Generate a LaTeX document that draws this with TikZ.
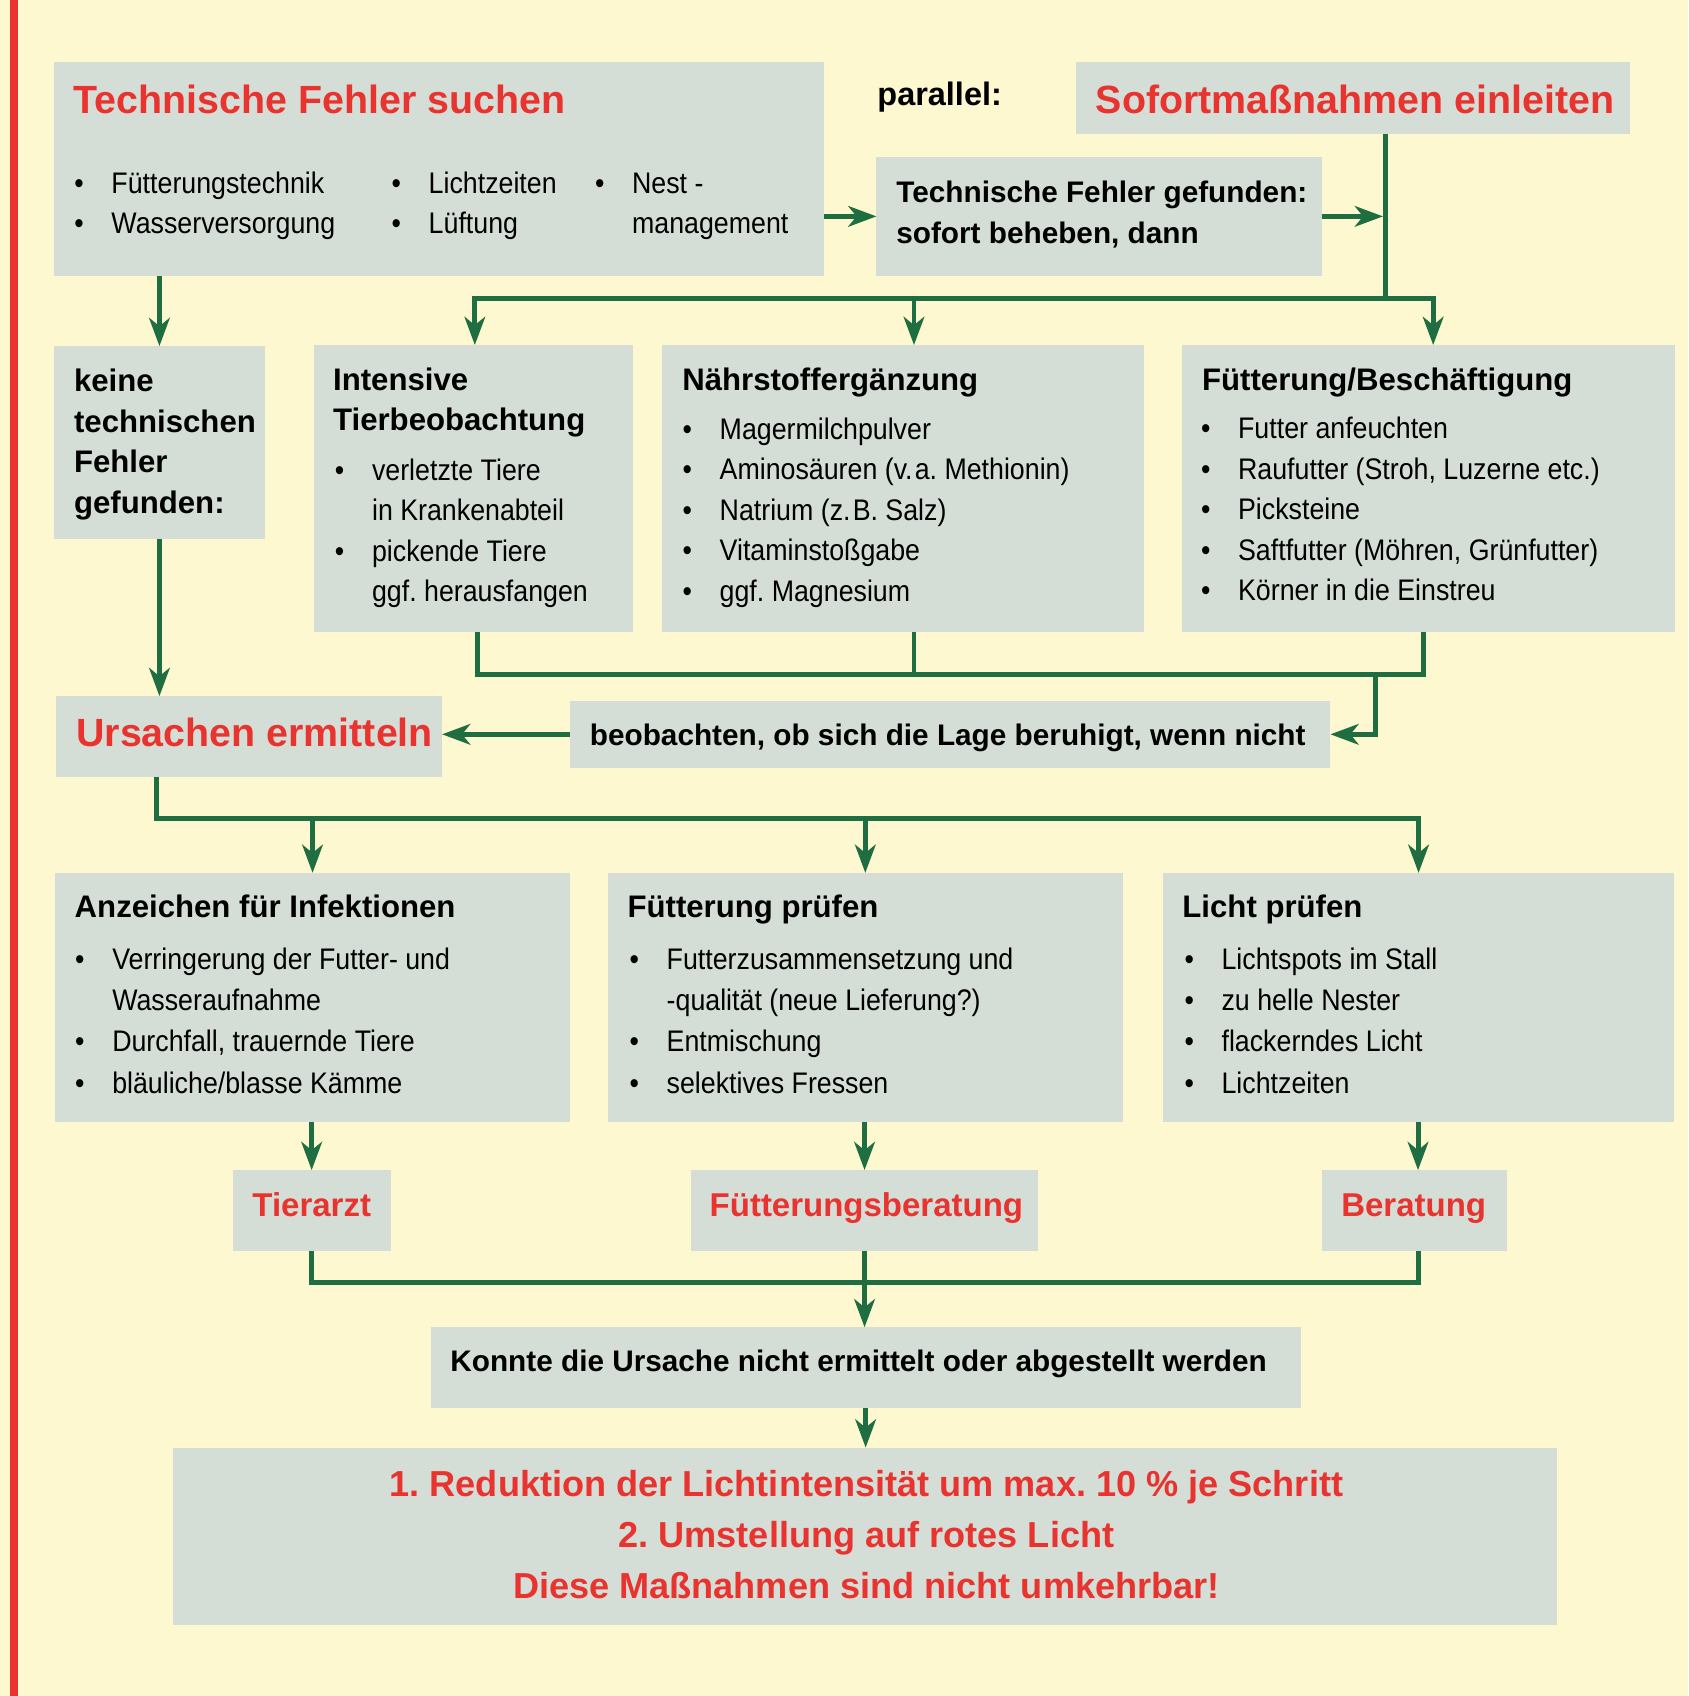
\documentclass[tikz,border=0pt]{standalone}
\usepackage{fontspec}
\setmainfont{Liberation Sans}
\newfontfamily\bodyfont{Liberation Sans}[FakeStretch=0.9]
\usetikzlibrary{arrows.meta,fit}
\definecolor{bgc}{HTML}{FDF8D0}
\definecolor{boxc}{HTML}{D4DED7}
\definecolor{grn}{HTML}{1F6E42}
\definecolor{redc}{HTML}{E8332F}
\newcommand\bitem[1]{\hbox{\makebox[17.15pt][l]{\textbullet}#1}}
\newcommand\bcont[1]{\hbox{\hspace*{17.15pt}#1}}
\begin{document}
\frenchspacing
\begin{tikzpicture}[x=0.5pt,y=-0.5pt,
 box/.style={fill=boxc, draw=none, inner sep=0pt, outer sep=0pt},
 ttl/.style={font=\bfseries\fontsize{18.2}{21.6}\selectfont, text=redc, inner sep=0pt, anchor=base west},
 hdr/.style={font=\bfseries\fontsize{14.4}{18.75}\selectfont, text=black, inner sep=0pt, anchor=base west},
 phr/.style={font=\bfseries\fontsize{13.75}{18.75}\selectfont, text=black, inner sep=0pt, anchor=base west},
 bod/.style={font=\bodyfont\fontsize{13.75}{18.75}\selectfont, text=black, inner sep=0pt, anchor=base west},
 bodw/.style={font=\bodyfont\fontsize{13.75}{19}\selectfont, text=black, inner sep=0pt, anchor=base west},
 rmid/.style={font=\bfseries\fontsize{15.25}{18}\selectfont, text=redc, inner sep=0pt, anchor=base},
 fin/.style={font=\bfseries\fontsize{16.7}{20}\selectfont, text=redc, inner sep=0pt, anchor=base},
 conn/.style={draw=grn, line width=2.3pt},
 arr/.style={conn, -{Stealth[length=13pt,width=9.5pt,inset=3.8pt]}},
]
\useasboundingbox (0,0) rectangle (1561,1568);
\fill[bgc] (0,0) rectangle (1561,1568);
\fill[redc] (9,0) rectangle (16.5,1568);

% boxes
\node[box, fit={(50.1,57.3) (761.8,255.2)}] (b1) {};
\node[box, fit={(994.8,57.3) (1507,123.6)}] (b2) {};
\node[box, fit={(810.3,145.2) (1221.8,254.9)}] (b3) {};
\node[box, fit={(50,320) (244.8,498.7)}] (b4) {};
\node[box, fit={(290.2,319) (585,584.1)}] (b5) {};
\node[box, fit={(612,319) (1057.3,584.1)}] (b6) {};
\node[box, fit={(1092.9,319) (1549,584.1)}] (b7) {};
\node[box, fit={(51.6,643.6) (408.7,718.2)}] (b8) {};
\node[box, fit={(527.1,648.2) (1230,709.6)}] (b9) {};
\node[box, fit={(50.9,807) (527,1037)}] (b10) {};
\node[box, fit={(562,807) (1038,1037)}] (b11) {};
\node[box, fit={(1075,807) (1548,1037)}] (b12) {};
\node[box, fit={(215,1081.8) (361.3,1156.6)}] (b13) {};
\node[box, fit={(639,1081.8) (959.6,1156.6)}] (b14) {};
\node[box, fit={(1222.3,1081.8) (1393.6,1156.6)}] (b15) {};
\node[box, fit={(398.2,1227.1) (1202.4,1301.8)}] (b16) {};
\node[box, fit={(160.3,1338.3) (1439.3,1502.3)}] (b17) {};

% junction coordinates
\coordinate (jA) at (1281,276);
\coordinate (busL) at (439,276);
\coordinate (busM) at (845,276);
\coordinate (busR) at (1325,276);
\coordinate (c1) at (441.7,623.6);
\coordinate (c2) at (1315.7,623.6);
\coordinate (c3) at (845,623.6);
\coordinate (c4) at (1271.3,623.6);
\coordinate (d0) at (144.5,757);
\coordinate (e1) at (1311,1186);

% connectors
\draw[arr] (b1.east |- b3.west) -- (b3.west);
\draw[arr, shorten >=1.2pt] (b3.east) -- (b3.east -| jA);
\draw[arr] (b2.south -| jA) -- (jA) -- (busL) -- (busL |- b5.north);
\draw[arr] (jA) -- (busR) -- (busR |- b7.north);
\draw[arr] (busM) -- (busM |- b6.north);
\draw[arr] (b4.north |- b1.south) -- (b4.north);
\draw[arr] (b4.south) -- (b4.south |- b8.north);
\draw[conn] (c1 |- b5.south) -- (c1) -- (c2) -- (c2 |- b7.south);
\draw[conn] (c3 |- b6.south) -- (c3);
\draw[arr] (c4) -- (c4 |- b9.east) -- (b9.east);
\draw[arr] (b9.west) -- (b8.east |- b9.west);
\draw[arr] (d0 |- b8.south) -- (d0) -| (b12.north);
\draw[arr] (d0 -| b10.north) -- (b10.north);
\draw[arr] (d0 -| b11.north) -- (b11.north);
\draw[arr] (b13.north |- b10.south) -- (b13.north);
\draw[arr] (b14.north |- b11.south) -- (b14.north);
\draw[arr] (e1 |- b12.south) -- (e1 |- b15.north);
\draw[conn] (b13.south) -- (b13.south |- e1) -- (e1) -- (e1 |- b15.south);
\draw[arr] (b14.south) -- (b14.south |- b16.north);
\draw[arr] (b16.south) -- (b16.south |- b17.north);

% texts
\node[ttl] (t1) at (67.7,104.5) {Technische Fehler suchen};
\node[bod] (t1a) at (68.4,178.7) {\vtop{\bitem{Fütterungstechnik}\bitem{Wasserversorgung}}};
\node[bod] (t1b) at (361.7,178.7) {\vtop{\bitem{Lichtzeiten}\bitem{Lüftung}}};
\node[bod] (t1c) at (549.7,178.7) {\vtop{\bitem{Nest -}\bcont{management}}};
\node[phr, font=\bfseries\fontsize{15}{18}\selectfont] (par) at (810.8,97.7) {parallel:};
\node[ttl] (t2) at (1012.8,104.8) {Sofortmaßnahmen einleiten};
\node[phr] (t3) at (828.3,187.5) {\vtop{\hbox{Technische Fehler gefunden:}\hbox{sofort beheben, dann}}};
\node[hdr] (t4) at (68.1,362.2) {\vtop{\hbox{keine}\hbox{technischen}\hbox{Fehler}\hbox{gefunden:}}};
\node[hdr, font=\bfseries\fontsize{14.4}{18.5}\selectfont] (t5h) at (307.6,360.6) {\vtop{\hbox{Intensive}\hbox{Tierbeobachtung}}};
\node[bod] (t5) at (309.3,443.9) {\vtop{\bitem{verletzte Tiere}\bcont{in Krankenabteil}\bitem{pickende Tiere}\bcont{ggf. herausfangen}}};
\node[hdr] (t6h) at (630.4,360.6) {Nährstoffergänzung};
\node[bod] (t6) at (630.7,406) {\vtop{\bitem{Magermilchpulver}\bitem{Aminosäuren (v.\kern1pt a. Methionin)}\bitem{Natrium (z.\kern1pt B. Salz)}\bitem{Vitaminstoßgabe}\bitem{ggf. Magnesium}}};
\node[hdr] (t7h) at (1111,360.6) {Fütterung/Beschäftigung};
\node[bod] (t7) at (1110,405.5) {\vtop{\bitem{Futter anfeuchten}\bitem{Raufutter (Stroh, Luzerne etc.)}\bitem{Picksteine}\bitem{Saftfutter (Möhren, Grünfutter)}\bitem{Körner in die Einstreu}}};
\node[ttl] (t8) at (70.2,690.5) {Ursachen ermitteln};
\node[phr] (t9) at (545,689.5) {beobachten, ob sich die Lage beruhigt, wenn nicht};
\node[hdr] (t10h) at (68.7,848.5) {Anzeichen für Infektionen};
\node[bodw] (t10) at (69.1,896.5) {\vtop{\bitem{Verringerung der Futter- und}\bcont{Wasseraufnahme}\bitem{Durchfall, trauernde Tiere}\bitem{bläuliche/blasse Kämme}}};
\node[hdr] (t11h) at (579.8,848.5) {Fütterung prüfen};
\node[bodw] (t11) at (581.7,896.5) {\vtop{\bitem{Futterzusammensetzung und}\bcont{-qualität (neue Lieferung?)}\bitem{Entmischung}\bitem{selektives Fressen}}};
\node[hdr] (t12h) at (1092.8,848.5) {Licht prüfen};
\node[bodw] (t12) at (1094.7,896.5) {\vtop{\bitem{Lichtspots im Stall}\bitem{zu helle Nester}\bitem{flackerndes Licht}\bitem{Lichtzeiten}}};
\node[rmid] (t13) at (288.2,1124.6) {Tierarzt};
\node[rmid] (t14) at (801,1124.6) {Fütterungsberatung};
\node[rmid] (t15) at (1307,1124.6) {Beratung};
\node[phr] (t16) at (416,1268) {Konnte die Ursache nicht ermittelt oder abgestellt werden};
\node[fin] (t17a) at (801,1384) {1. Reduktion der Lichtintensität um max. 10 \% je Schritt};
\node[fin] (t17b) at (801,1430.7) {2. Umstellung auf rotes Licht};
\node[fin] (t17c) at (801,1477.4) {Diese Maßnahmen sind nicht umkehrbar!};
\end{tikzpicture}
\end{document}
